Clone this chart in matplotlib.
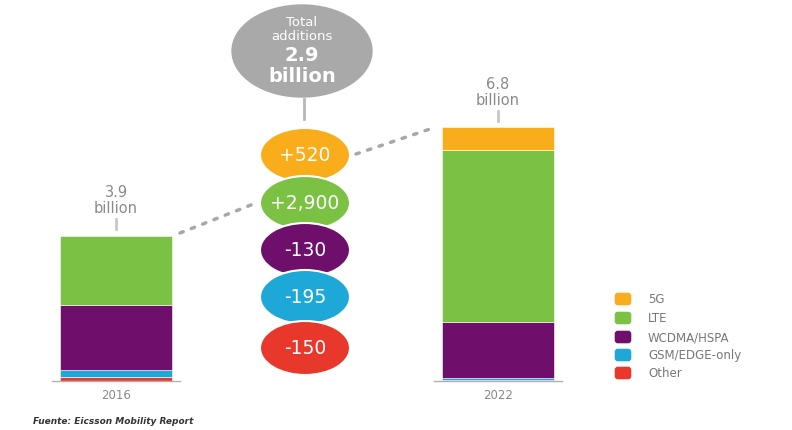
import numpy as np
from matplotlib import pyplot as plt
from matplotlib.patches import Ellipse, FancyBboxPatch

# data (billions of subscriptions)
years = ["2016", "2022"]
series = ["Other", "GSM/EDGE-only", "WCDMA/HSPA", "LTE", "5G"]
values = {
    "2016": [0.10, 0.20, 1.75, 1.85, 0.0],
    "2022": [0.02, 0.06, 1.50, 4.60, 0.62],
}
totals = ["3.9", "6.8"]
colors = ["#e8372b", "#1ea8d8", "#6d0f6b", "#7bc143", "#f9ad1a"]

changes = ["+520", "+2,900", "-130", "-195", "-150"]
change_colors = ["#f9ad1a", "#7bc143", "#6d0f6b", "#1ea8d8", "#e8372b"]

legend_labels = ["5G", "LTE", "WCDMA/HSPA", "GSM/EDGE-only", "Other"]
legend_colors = ["#f9ad1a", "#7bc143", "#6d0f6b", "#1ea8d8", "#e8372b"]

SCALE = 37.3   # pixels per billion
BASE = 382     # baseline pixel row


def yv(p):
    # pixel row -> data value
    return (BASE - p) / SCALE


fig = plt.figure(figsize=(7.92, 4.31), dpi=100)
ax = fig.add_axes([0, 0, 1, 1])
ax.set_xlim(0, 792)
ax.set_ylim(yv(431), yv(0))
ax.axis("off")

bar_x = [116, 498]
bar_w = 112
for xc, yr, tot in zip(bar_x, years, totals):
    bottom = 0
    for v, c in zip(values[yr], colors):
        if v > 0:
            ax.bar(xc, v, width=bar_w, bottom=bottom, color=c, edgecolor="white", linewidth=0.4)
        bottom += v
    ax.plot([xc - 64, xc + 64], [0, 0], color="#b0b0b0", lw=1)
    ax.text(xc, yv(396), yr, ha="center", va="center", fontsize=8.5, color="#888888")
    ax.text(xc, bottom + 0.55, tot + "\nbillion", ha="center", va="bottom", fontsize=10.5,
            color="#8a8a8a", linespacing=1.05)
    ax.plot([xc, xc], [bottom + 0.18, bottom + 0.43], color="#c8c8c8", lw=2)

# total additions bubble
ax.add_patch(Ellipse((302, yv(52)), 140, 92 / SCALE, color="#a9a9a9"))
ax.text(302, yv(23), "Total", ha="center", va="center", fontsize=9.5, color="white")
ax.text(302, yv(37), "additions", ha="center", va="center", fontsize=9.5, color="white")
ax.text(302, yv(56), "2.9", ha="center", va="center", fontsize=14, color="white", fontweight="bold")
ax.text(302, yv(77), "billion", ha="center", va="center", fontsize=14, color="white", fontweight="bold")
ax.plot([304, 304], [yv(100), yv(120)], color="#b8b8b8", lw=2)

# change bubbles
centers = [156, 204, 251, 298, 349]
for i, (lab, c) in enumerate(zip(changes, change_colors)):
    ax.add_patch(Ellipse((305, yv(centers[i])), 90, 54 / SCALE, facecolor=c,
                         edgecolor="white", lw=1.5, zorder=3 + i))
    ax.text(305, yv(centers[i]), lab, ha="center", va="center", fontsize=13.5,
            color="white", zorder=10)

# dotted connectors
ax.plot([180, 256], [yv(234), yv(204)], ls=(0, (1, 2.5)), lw=2.5, color="#a8a8a8",
        dash_capstyle="round")
ax.plot([356, 436], [yv(155), yv(128)], ls=(0, (1, 2.5)), lw=2.5, color="#a8a8a8",
        dash_capstyle="round")

# legend
leg_rows = [300, 319, 338, 356, 374]
for r, lab, c in zip(leg_rows, legend_labels, legend_colors):
    ax.add_patch(FancyBboxPatch((616, yv(r + 5)), 14, 10 / SCALE,
                                boxstyle="round,pad=0.6,rounding_size=2.5",
                                mutation_aspect=1 / SCALE, color=c))
    ax.text(648, yv(r), lab, ha="left", va="center", fontsize=8.5, color="#777777")

ax.text(33, yv(422), "Fuente: Eicsson Mobility Report", fontsize=6.5, style="italic",
        fontweight="bold", color="#333333", va="center")

fig.savefig("out.png", dpi=100)
